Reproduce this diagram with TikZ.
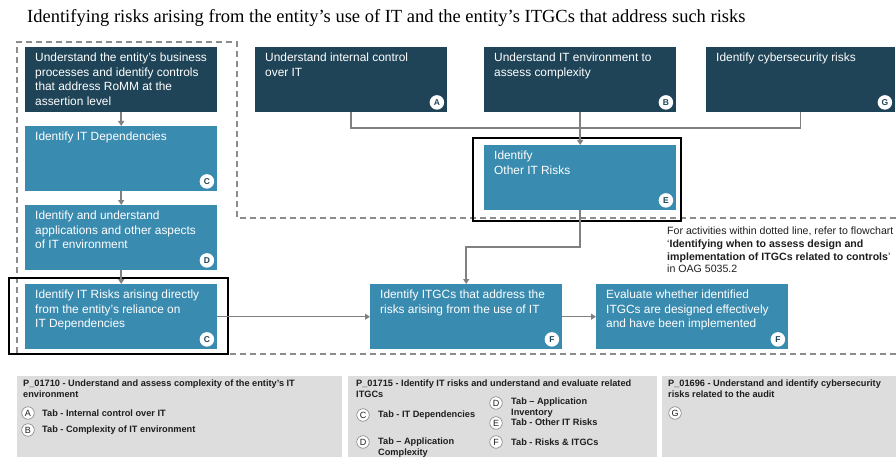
\documentclass[tikz,border=0pt]{standalone}
\usepackage{fontspec}
\setmainfont{Liberation Sans}
\newfontfamily\titlefont{Liberation Serif}
\usetikzlibrary{arrows.meta}
\definecolor{darkbox}{RGB}{31,68,88}
\definecolor{lightbox}{RGB}{58,139,176}
\definecolor{conncol}{RGB}{128,128,128}
\definecolor{dashcol}{RGB}{140,140,140}
\definecolor{panelgray}{RGB}{221,221,221}
\definecolor{notetext}{RGB}{30,30,30}
\begin{document}
\begin{tikzpicture}[x=1pt,y=-1pt,
  boxbase/.style={anchor=north west, inner sep=0pt, minimum width=192pt, minimum height=65pt, draw=none},
  dbox/.style={boxbase, fill=darkbox},
  lbox/.style={boxbase, fill=lightbox},
  btext/.style={anchor=north west, inner sep=0pt, text=white, align=left, font=\fontsize{11.9}{14.4}\selectfont},
  badge/.style={circle, fill=white, inner sep=0pt, minimum size=14.5pt, text=darkbox, font=\bfseries\fontsize{8.5}{9}\selectfont},
  conn/.style={draw=conncol, line width=1.5pt},
  arr/.style={conn, -{Triangle[width=6pt,length=5pt]}},
  frame/.style={draw=black, line width=2.4pt},
  dashline/.style={draw=dashcol, line width=1.4pt, dash pattern=on 6pt off 4pt},
  panel/.style={fill=panelgray, draw=none},
  ptext/.style={anchor=north west, inner sep=0pt, align=left, text=notetext, font=\bfseries\fontsize{9.2}{10.8}\selectfont},
  pitem/.style={anchor=west, inner sep=0pt, align=left, text=notetext, font=\bfseries\fontsize{9.2}{10.8}\selectfont},
  pcirc/.style={circle, fill=white, draw=conncol, line width=0.6pt, inner sep=0pt, minimum size=12.5pt, text=notetext, font=\fontsize{9}{9}\selectfont}
]
\useasboundingbox (0,0) rectangle (896,457);
\fill[white] (0,0) rectangle (896,457);

% title
\node[anchor=west, inner sep=0pt, font=\titlefont\fontsize{18.5}{20}\selectfont] (title) at (27,18) {Identifying risks arising from the entity’s use of IT and the entity’s ITGCs that address such risks};

% dashed region
\draw[dashline] (896,218) -- (237,218) -- (237,42) -- (17,42) -- (17,354) -- (896,354);

% boxes
\node[dbox] (b1) at (25,47) {};
\node[lbox] (b2) at (25,126) {};
\node[lbox] (b3) at (25,205) {};
\node[lbox] (b4) at (25,284) {};
\node[dbox] (bA) at (255,47) {};
\node[dbox] (bB) at (484,47) {};
\node[dbox, minimum width=189pt] (bG) at (706,47) {};
\node[lbox] (bE) at (484,145) {};
\node[lbox] (bF1) at (370,284) {};
\node[lbox] (bF2) at (596,284) {};

% texts
\node[btext] (t1) at ([xshift=10pt,yshift=-6pt]b1.north west) {Understand the entity’s business\\processes and identify controls\\that address RoMM at the\\assertion level};
\node[btext] (t2) at ([xshift=10pt,yshift=-6pt]b2.north west) {Identify IT Dependencies};
\node[btext] (t3) at ([xshift=10pt,yshift=-6pt]b3.north west) {Identify and understand\\applications and other aspects\\of IT environment};
\node[btext] (t4) at ([xshift=10pt,yshift=-6pt]b4.north west) {Identify IT Risks arising directly\\from the entity’s reliance on\\IT Dependencies};
\node[btext] (tA) at ([xshift=10pt,yshift=-6pt]bA.north west) {Understand internal control\\over IT};
\node[btext] (tB) at ([xshift=10pt,yshift=-6pt]bB.north west) {Understand IT environment to\\assess complexity};
\node[btext] (tG) at ([xshift=10pt,yshift=-6pt]bG.north west) {Identify cybersecurity risks};
\node[btext] (tE) at ([xshift=10pt,yshift=-6pt]bE.north west) {Identify\\Other IT Risks};
\node[btext] (tF1) at ([xshift=10pt,yshift=-6pt]bF1.north west) {Identify ITGCs that address the\\risks arising from the use of IT};
\node[btext] (tF2) at ([xshift=10pt,yshift=-6pt]bF2.north west) {Evaluate whether identified\\ITGCs are designed effectively\\and have been implemented};

% badges
\node[badge] (g2) at ([xshift=-10.5pt,yshift=10pt]b2.south east) {C};
\node[badge] (g3) at ([xshift=-10.5pt,yshift=10pt]b3.south east) {D};
\node[badge] (g4) at ([xshift=-10.5pt,yshift=10pt]b4.south east) {C};
\node[badge] (gA) at ([xshift=-10.5pt,yshift=10pt]bA.south east) {A};
\node[badge] (gB) at ([xshift=-10.5pt,yshift=10pt]bB.south east) {B};
\node[badge] (gG) at ([xshift=-10.5pt,yshift=10pt]bG.south east) {G};
\node[badge] (gE) at ([xshift=-10.5pt,yshift=10pt]bE.south east) {E};
\node[badge] (gF1) at ([xshift=-10.5pt,yshift=10pt]bF1.south east) {F};
\node[badge] (gF2) at ([xshift=-10.5pt,yshift=10pt]bF2.south east) {F};

% frames
\draw[frame] (9,278) rectangle (228,354);
\draw[frame] (473,138) rectangle (681,221);

% connectors
\draw[arr] (b1.south) -- (b2.north);
\draw[arr] (b2.south) -- (b3.north);
\draw[arr] (b3.south) -- (b4.north);
\coordinate (jA) at (0,128);
\draw[conn] (bA.south) |- (jA -| bG.south) -- (bG.south);
\draw[arr] (bB.south) -- (bE.north);
\coordinate (jE) at (0,247);
\draw[arr] (bE.south) |- (jE -| bF1.north) -- (bF1.north);
\draw[arr] (b4.east) -- (bF1.west);
\draw[arr] (bF1.east) -- (bF2.west);

% note
\node[anchor=north west, inner sep=0pt, align=left, text=notetext, font=\fontsize{10.6}{12.7}\selectfont] (note) at (667,227) {For activities within dotted line, refer to flowchart\\‘\textbf{Identifying when to assess design and}\\\textbf{implementation of ITGCs related to controls}’\\in OAG 5035.2};

% panels
\fill[panel] (17,376) rectangle (342,457);
\fill[panel] (348,376) rectangle (657,457);
\fill[panel] (662,376) rectangle (896,457);

\node[ptext] (p1) at (23,380) {P\_01710 - Understand and assess complexity of the entity's IT\\environment};
\node[pcirc] (cA) at (28,413) {A};
\node[pitem] (iA) at (42,413) {Tab - Internal control over IT};
\node[pcirc] (cB) at (28,430) {B};
\node[pitem] (iB) at (42,430) {Tab - Complexity of IT environment};

\node[ptext] (p2) at (356,380) {P\_01715 - Identify IT risks and understand and evaluate related\\ITGCs};
\node[pcirc] (cC) at (363,415) {C};
\node[pitem] (iC) at (378,415) {Tab - IT Dependencies};
\node[pcirc] (cD1) at (363,442) {D};
\node[pitem] (iD1) at (378,448) {Tab – Application\\Complexity};
\node[pcirc] (cD2) at (496,403) {D};
\node[pitem] (iD2) at (511,408) {Tab – Application\\Inventory};
\node[pcirc] (cE) at (496,423) {E};
\node[pitem] (iE) at (511,422) {Tab - Other IT Risks};
\node[pcirc] (cF) at (496,442) {F};
\node[pitem] (iF) at (511,442) {Tab - Risks \& ITGCs};

\node[ptext] (p3) at (668,380) {P\_01696 - Understand and identify cybersecurity\\risks related to the audit};
\node[pcirc] (cG) at (675,413) {G};
\end{tikzpicture}
\end{document}
